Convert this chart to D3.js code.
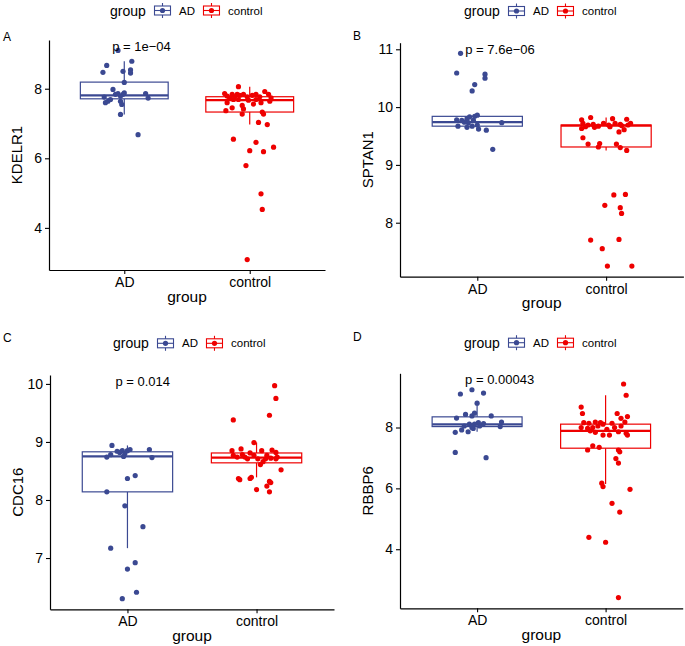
<!DOCTYPE html>
<html>
<head>
<meta charset="utf-8">
<script src="https://cdn.jsdelivr.net/npm/d3@7"></script>
<style>
  html, body { margin: 0; padding: 0; background: #fff; }
  svg { display: block; }
  text { font-family: "Liberation Sans", Arial, Helvetica, sans-serif; fill: #000; }
</style>
</head>
<body>
<svg id="chart" width="685" height="646"></svg>
<script>
// ---------------- DATA ----------------
const groups = ["AD", "control"];
const groupColors = ["#3B4992", "#EE0000"];
const panelLetters = ["A", "B", "C", "D"];
const genes = ["KDELR1", "SPTAN1", "CDC16", "RBBP6"];
const pLabels = ["p = 1e\u221204", "p = 7.6e\u221206", "p = 0.014", "p = 0.00043"];
const yTicks = [[4, 6, 8], [8, 9, 10, 11], [7, 8, 9, 10], [4, 6, 8]];

// points: [value, jitter offset in category-step units]
const kdelr1AD = [[9.10,-0.05],[8.67,-0.14],[8.47,-0.17],[8.79,0.06],[8.50,-0.01],[8.54,0.05],[8.45,0.05],[8.18,0.00],[7.98,-0.09],[7.86,0.17],[7.73,0.19],[7.76,-0.16],[7.60,-0.15],[7.64,-0.13],[7.69,-0.11],[7.84,-0.07],[7.86,-0.05],[7.79,-0.03],[7.84,-0.01],[7.64,-0.03],[7.55,-0.02],[7.88,0.00],[7.26,-0.03],[6.68,0.11]];
const kdelr1Ctl = [[8.06,-0.09],[7.86,-0.20],[7.79,-0.18],[7.84,-0.14],[7.77,-0.12],[7.84,-0.10],[7.81,-0.08],[7.84,-0.05],[7.77,-0.02],[7.81,0.02],[7.84,0.05],[7.77,0.08],[7.92,0.12],[7.84,0.15],[7.74,0.17],[7.64,0.16],[7.60,-0.18],[7.45,-0.14],[7.37,-0.19],[7.69,-0.13],[7.52,-0.06],[7.42,-0.05],[7.27,-0.06],[7.56,0.03],[7.60,0.09],[7.33,0.10],[7.27,0.11],[7.03,0.07],[6.97,0.14],[6.55,-0.13],[6.46,0.05],[6.22,0.00],[6.19,0.11],[6.32,0.19],[5.79,-0.03],[4.98,0.09],[4.53,0.10],[3.09,-0.02],[7.69,-0.09],[7.69,0.05],[7.67,-0.01],[7.74,-0.16]];
const sptan1AD = [[10.93,-0.13],[10.59,-0.16],[10.57,0.06],[10.50,0.06],[10.39,-0.02],[10.28,-0.04],[9.27,0.12],[9.60,0.07],[9.73,0.19],[9.78,-0.16],[9.67,-0.15],[9.77,-0.12],[9.80,-0.08],[9.73,-0.07],[9.83,-0.06],[9.77,-0.03],[9.84,-0.02],[9.86,0.00],[9.69,0.00],[9.67,-0.04],[9.65,-0.08],[9.62,0.01],[9.74,-0.10]];
const sptan1Ctl = [[9.78,-0.19],[9.82,-0.12],[9.80,0.05],[9.79,0.16],[9.72,-0.18],[9.69,-0.14],[9.70,-0.10],[9.67,-0.06],[9.72,-0.02],[9.69,0.02],[9.72,0.07],[9.70,0.11],[9.69,0.17],[9.72,0.19],[9.63,-0.19],[9.57,0.10],[9.61,0.14],[9.47,-0.18],[9.36,-0.14],[9.37,-0.05],[9.31,-0.06],[9.36,0.08],[9.30,0.11],[9.25,0.16],[8.48,0.06],[8.49,0.15],[8.30,-0.01],[8.26,0.11],[8.16,0.12],[7.70,-0.12],[7.71,0.10],[7.55,-0.03],[7.25,0.01],[7.25,0.20],[9.65,-0.09],[9.66,0.03],[9.68,0.12],[9.66,-0.16]];
const cdc16AD = [[8.94,-0.12],[8.78,-0.13],[8.74,-0.16],[8.84,-0.08],[8.82,-0.06],[8.85,-0.04],[8.80,-0.02],[8.85,0.00],[8.75,-0.03],[8.87,0.02],[8.87,0.17],[8.73,0.19],[8.42,0.06],[8.37,0.00],[8.14,-0.16],[7.90,-0.02],[7.54,0.12],[7.17,-0.13],[6.92,0.06],[6.81,0.00],[6.41,0.07],[6.30,-0.04]];
const cdc16Ctl = [[9.97,0.14],[9.75,0.15],[9.46,0.10],[9.38,-0.18],[8.99,-0.02],[8.85,-0.19],[8.88,-0.12],[8.77,-0.18],[8.78,-0.11],[8.74,-0.09],[8.81,-0.05],[8.77,-0.02],[8.85,0.04],[8.77,0.08],[8.86,0.12],[8.82,0.15],[8.74,0.16],[8.72,0.11],[8.66,0.05],[8.61,0.03],[8.52,0.19],[8.37,-0.14],[8.35,-0.13],[8.37,-0.05],[8.39,-0.04],[8.32,0.10],[8.30,0.11],[8.24,0.08],[8.18,0.00],[8.14,0.10],[8.71,-0.07],[8.74,-0.15],[8.71,0.07],[8.71,0.15],[8.71,0.01]];
const rbbp6AD = [[9.10,-0.13],[9.24,-0.04],[9.13,0.05],[8.80,0.00],[8.31,-0.16],[8.43,-0.09],[8.38,-0.04],[8.47,-0.02],[8.38,0.11],[8.18,0.19],[8.03,0.18],[7.84,-0.17],[7.92,-0.12],[7.86,-0.07],[7.97,-0.03],[8.16,0.01],[8.11,-0.02],[8.11,-0.06],[8.05,-0.10],[8.13,0.05],[8.05,0.02],[7.18,-0.17],[7.01,0.07],[8.00,-0.04]];
const rbbp6Ctl = [[9.43,0.14],[9.06,0.16],[8.67,-0.19],[8.46,-0.18],[8.46,0.09],[8.36,0.17],[8.30,0.12],[8.16,-0.17],[8.14,-0.13],[8.18,-0.08],[8.16,-0.04],[8.11,-0.02],[8.14,0.05],[8.18,0.15],[8.00,-0.19],[7.97,-0.14],[8.00,-0.10],[8.05,-0.06],[7.94,0.01],[8.00,0.07],[8.05,0.12],[7.89,-0.12],[7.84,-0.08],[7.75,-0.02],[7.75,0.03],[7.86,0.10],[7.81,0.16],[7.75,0.17],[7.40,-0.10],[7.35,-0.05],[7.26,-0.14],[7.26,0.10],[7.20,0.11],[6.98,0.08],[6.83,0.10],[6.17,-0.03],[6.06,-0.02],[5.97,0.19],[5.51,0.05],[5.22,0.11],[4.39,-0.13],[4.23,0.00],[2.41,0.10]];

// box statistics: [lower whisker, Q1, median, Q3, upper whisker]
const kdelr1BoxAD  = [7.26, 7.71, 7.81, 8.19, 8.79];
const kdelr1BoxCtl = [6.97, 7.33, 7.67, 7.77, 8.06];
const sptan1BoxAD  = [9.59, 9.67, 9.74, 9.84, 9.86];
const sptan1BoxCtl = [9.25, 9.31, 9.68, 9.69, 9.82];
const cdc16BoxAD   = [7.17, 8.14, 8.75, 8.83, 8.94];
const cdc16BoxCtl  = [8.39, 8.64, 8.73, 8.81, 8.99];
const rbbp6BoxAD   = [7.86, 8.03, 8.10, 8.35, 8.80];
const rbbp6BoxCtl  = [6.14, 7.32, 7.89, 8.11, 9.06];

// ---------------- LAYOUT ----------------
const frames = [
  {left: 49,  right: 325,   top: 40,    bottom: 270,   legendX: 110, legendY: 10.5,  letterX: 3,   letterY: 37},
  {left: 400, right: 683.4, top: 42.7,  bottom: 276.7, legendX: 464, legendY: 11,    letterX: 353, letterY: 36},
  {left: 50,  right: 334,   top: 375,   bottom: 609.3, legendX: 113, legendY: 343.3, letterX: 3,   letterY: 338},
  {left: 400, right: 682.7, top: 373.3, bottom: 608.3, legendX: 464, legendY: 342.7, letterX: 353, letterY: 337}
];
const pointsByPanel = [[kdelr1AD, kdelr1Ctl], [sptan1AD, sptan1Ctl], [cdc16AD, cdc16Ctl], [rbbp6AD, rbbp6Ctl]];
const boxesByPanel = [[kdelr1BoxAD, kdelr1BoxCtl], [sptan1BoxAD, sptan1BoxCtl], [cdc16BoxAD, cdc16BoxCtl], [rbbp6BoxAD, rbbp6BoxCtl]];

const svg = d3.select("#chart");
const color = d3.scaleOrdinal().domain(groups).range(groupColors);

frames.forEach((f, i) => {
  const g = svg.append("g");
  const pts = pointsByPanel[i];
  const allVals = pts[0].concat(pts[1]).map(d => d[0]);
  const [mn, mx] = d3.extent(allVals);
  const pad = (mx - mn) * 0.05;
  const y = d3.scaleLinear().domain([mn - pad, mx + pad]).range([f.bottom, f.top]);
  const x = d3.scalePoint().domain(groups).range([f.left, f.right]).padding(0.6);
  const step = x.step();
  const bw = step * 0.7;

  // panel letter
  g.append("text").attr("x", f.letterX).attr("y", f.letterY)
    .attr("dominant-baseline", "central").style("font-size", "12px").text(panelLetters[i]);

  // boxes
  groups.forEach((grp, k) => {
    const b = boxesByPanel[i][k];
    const cx = x(grp);
    const c = color(grp);
    const bg = g.append("g").attr("stroke", c).attr("stroke-width", 1.2).attr("fill", "none");
    bg.append("line").attr("x1", cx).attr("x2", cx).attr("y1", y(b[0])).attr("y2", y(b[1]));
    bg.append("line").attr("x1", cx).attr("x2", cx).attr("y1", y(b[3])).attr("y2", y(b[4]));
    bg.append("rect").attr("x", cx - bw / 2).attr("width", bw)
      .attr("y", y(b[3])).attr("height", y(b[1]) - y(b[3])).attr("fill", "#fff");
    bg.append("line").attr("x1", cx - bw / 2).attr("x2", cx + bw / 2)
      .attr("y1", y(b[2])).attr("y2", y(b[2])).attr("stroke-width", 2.2);
  });

  // jitter points
  groups.forEach((grp, k) => {
    g.append("g").selectAll("circle").data(pts[k]).join("circle")
      .attr("cx", d => x(grp) + d[1] * step)
      .attr("cy", d => y(d[0]))
      .attr("r", 2.6)
      .attr("fill", color(grp));
  });

  // axes
  const ya = g.append("g").attr("transform", `translate(${f.left},0)`)
    .call(d3.axisLeft(y).tickValues(yTicks[i]).tickSize(4).tickSizeOuter(0).tickPadding(3).tickFormat(d3.format("d")));
  const xa = g.append("g").attr("transform", `translate(0,${f.bottom})`)
    .call(d3.axisBottom(x).tickSize(4).tickSizeOuter(0).tickPadding(3));
  [ya, xa].forEach(a => {
    a.select(".domain").attr("stroke", "#000").attr("stroke-width", 1.2);
    a.selectAll(".tick line").attr("stroke", "#000").attr("stroke-width", 1.1);
    a.selectAll(".tick text").style("font-size", "14px").attr("fill", "#000")
      .style("font-family", "'Liberation Sans', Arial, sans-serif");
  });

  // axis titles
  g.append("text").attr("x", (f.left + f.right) / 2).attr("y", f.bottom + 26)
    .attr("text-anchor", "middle").attr("dominant-baseline", "central")
    .style("font-size", "15.5px").text("group");
  g.append("text").attr("transform", `translate(${f.left - 33},${(f.top + f.bottom) / 2}) rotate(-90)`)
    .attr("text-anchor", "middle").attr("dominant-baseline", "central")
    .style("font-size", "15px").text(genes[i]);

  // p-value label
  g.append("text").attr("x", x(groups[0]) - 12).attr("y", f.top + 6.5)
    .attr("dominant-baseline", "central").style("font-size", "13px").text(pLabels[i]);

  // legend
  const lg = g.append("g").attr("transform", `translate(${f.legendX},${f.legendY})`);
  lg.append("text").attr("x", 0).attr("y", 0).attr("dominant-baseline", "central")
    .style("font-size", "14px").text("group");
  let lx = 44;
  groups.forEach((grp, k) => {
    const c = color(grp);
    const kg = lg.append("g").attr("transform", `translate(${lx},0)`);
    kg.append("line").attr("x1", 8.5).attr("x2", 8.5).attr("y1", -7.5).attr("y2", 7.5)
      .attr("stroke", c).attr("stroke-width", 1.1);
    kg.append("rect").attr("x", 0.5).attr("y", -4.5).attr("width", 16).attr("height", 9)
      .attr("fill", "#fff").attr("stroke", c).attr("stroke-width", 1.1);
    kg.append("line").attr("x1", 0.5).attr("x2", 16.5).attr("y1", 0).attr("y2", 0)
      .attr("stroke", c).attr("stroke-width", 1.1);
    kg.append("circle").attr("cx", 8.5).attr("cy", 0).attr("r", 2.6).attr("fill", c);
    const t = lg.append("text").attr("x", lx + 25).attr("y", 0).attr("dominant-baseline", "central")
      .style("font-size", "11.5px").text(grp);
    lx += 25 + t.node().getComputedTextLength() + 8;
  });
});
</script>
</body>
</html>
